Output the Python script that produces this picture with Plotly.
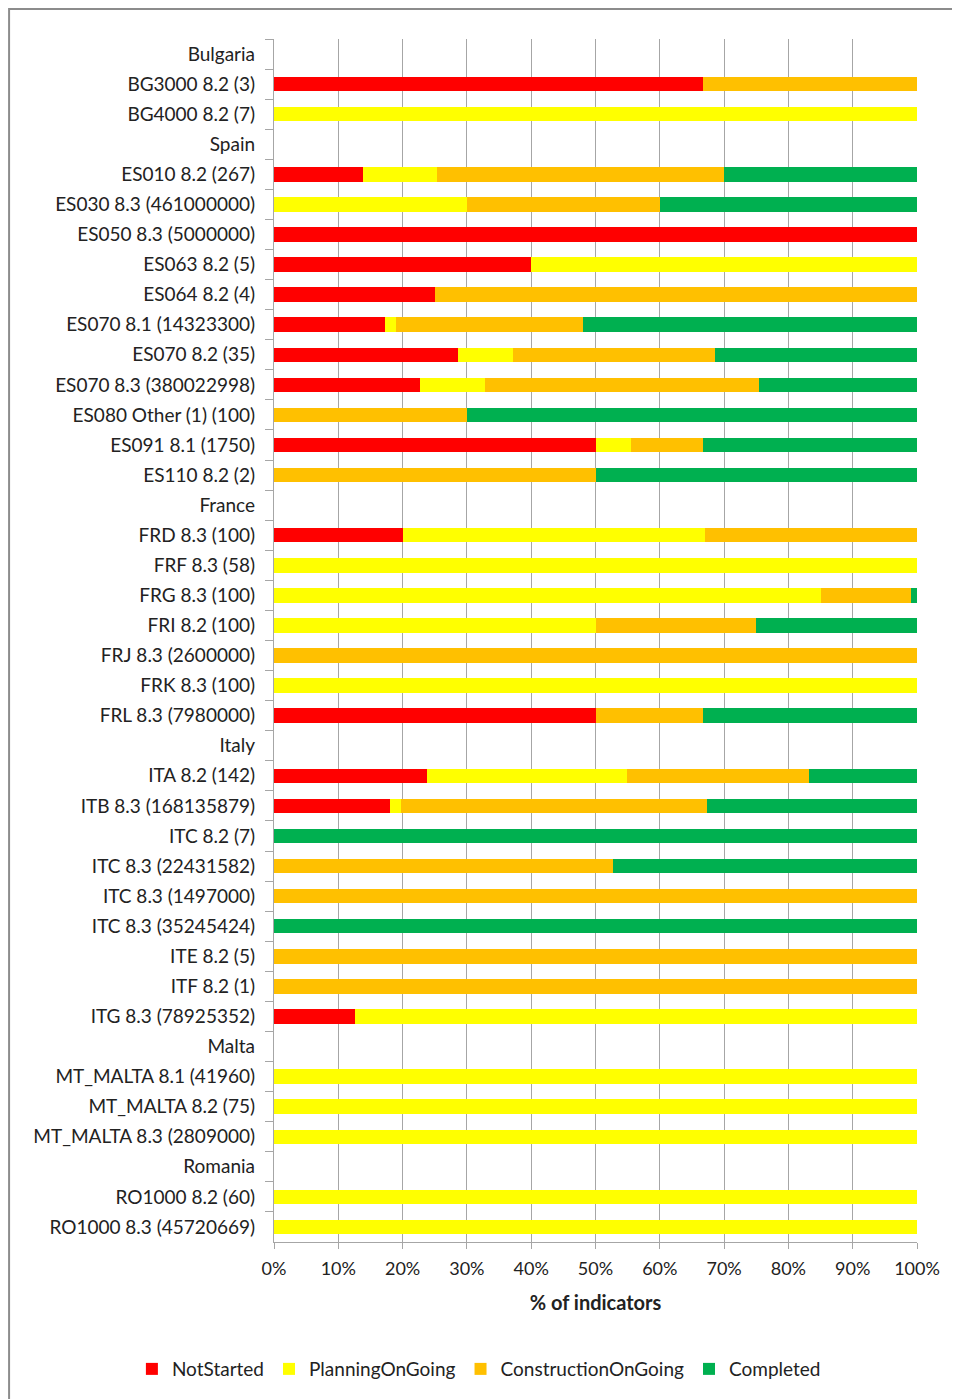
import plotly.graph_objects as go

# categories top to bottom; country header rows carry no bars
categories = [
    "Bulgaria", "BG3000 8.2 (3)", "BG4000 8.2 (7)",
    "Spain", "ES010 8.2 (267)", "ES030 8.3 (461000000)", "ES050 8.3 (5000000)",
    "ES063 8.2 (5)", "ES064 8.2 (4)", "ES070 8.1 (14323300)", "ES070 8.2 (35)",
    "ES070 8.3 (380022998)", "ES080 Other (1) (100)", "ES091 8.1 (1750)", "ES110 8.2 (2)",
    "France", "FRD 8.3 (100)", "FRF 8.3 (58)", "FRG 8.3 (100)", "FRI 8.2 (100)",
    "FRJ 8.3 (2600000)", "FRK 8.3 (100)", "FRL 8.3 (7980000)",
    "Italy", "ITA 8.2 (142)", "ITB 8.3 (168135879)", "ITC 8.2 (7)", "ITC 8.3 (22431582)",
    "ITC 8.3 (1497000)", "ITC 8.3 (35245424)", "ITE 8.2 (5)", "ITF 8.2 (1)", "ITG 8.3 (78925352)",
    "Malta", "MT_MALTA 8.1 (41960)", "MT_MALTA 8.2 (75)", "MT_MALTA 8.3 (2809000)",
    "Romania", "RO1000 8.2 (60)", "RO1000 8.3 (45720669)",
]

not_started = [
    None, 66.7, 0,
    None, 13.8, 0, 100, 40, 25, 17.2, 28.6, 22.7, 0, 50, 0,
    None, 20, 0, 0, 0, 0, 0, 50,
    None, 23.8, 18.0, 0, 0, 0, 0, 0, 0, 12.6,
    None, 0, 0, 0,
    None, 0, 0,
]
planning = [
    None, 0, 100,
    None, 11.6, 30, 0, 60, 0, 1.8, 8.5, 10.1, 0, 5.5, 0,
    None, 47.1, 100, 85, 50, 0, 100, 0,
    None, 31.1, 1.8, 0, 0, 0, 0, 0, 0, 87.4,
    None, 100, 100, 100,
    None, 100, 100,
]
construction = [
    None, 33.3, 0,
    None, 44.6, 30, 0, 0, 75, 29.1, 31.5, 42.7, 30, 11.2, 50,
    None, 32.9, 0, 14, 25, 100, 0, 16.7,
    None, 28.3, 47.5, 0, 52.7, 100, 0, 100, 100, 0,
    None, 0, 0, 0,
    None, 0, 0,
]
completed = [
    None, 0, 0,
    None, 30, 40, 0, 0, 0, 51.9, 31.4, 24.5, 70, 33.3, 50,
    None, 0, 0, 1, 25, 0, 0, 33.3,
    None, 16.8, 32.7, 100, 47.3, 0, 100, 0, 0, 0,
    None, 0, 0, 0,
    None, 0, 0,
]

series = [
    ("NotStarted", not_started, "#FF0000"),
    ("PlanningOnGoing", planning, "#FFFF00"),
    ("ConstructionOnGoing", construction, "#FFC000"),
    ("Completed", completed, "#00B050"),
]

fig = go.Figure()
for name, vals, col in series:
    fig.add_trace(go.Bar(
        y=categories, x=vals, name=name, orientation="h",
        marker=dict(color=col, line=dict(width=0)),
    ))

font = "Lato, 'Open Sans', sans-serif"

fig.update_layout(
    barmode="stack",
    bargap=0.52,
    width=960, height=1399,
    margin=dict(l=266, r=51, t=31, b=165),
    paper_bgcolor="white", plot_bgcolor="white",
    font=dict(family=font, size=19, color="#222"),
    legend=dict(
        orientation="h", x=-0.221, xanchor="left", y=-0.1056, yanchor="middle",
        font=dict(size=19), traceorder="normal", itemwidth=30,
    ),
)

#Percent axis with vertical gridlines
fig.update_xaxes(
    range=[0, 100], dtick=10, ticksuffix="%",
    showgrid=True, gridcolor="#a6a6a6", gridwidth=1.3,
    showline=True, linecolor="#a6a6a6", linewidth=1.3,
    ticks="outside", ticklen=6, tickcolor="#a6a6a6", ticklabelstandoff=4,
    title=dict(text="<b>% of indicators</b>", font=dict(size=20), standoff=18),
    tickfont=dict(size=18), zeroline=False,
)
fig.update_yaxes(
    autorange="reversed", type="category",
    showline=True, linecolor="#a6a6a6", linewidth=1.3,
    ticks="outside", ticklen=8, tickcolor="#a6a6a6", tickson="boundaries",
    showgrid=False, ticklabelstandoff=14,
)

#Outer chart border
fig.add_shape(
    type="rect", xref="paper", yref="paper",
    x0=-0.412, x1=1.2, y0=-0.2, y1=1.0249,
    line=dict(color="#8c8c8c", width=2), fillcolor="rgba(0,0,0,0)", layer="below",
)

fig.write_html("out.html")
